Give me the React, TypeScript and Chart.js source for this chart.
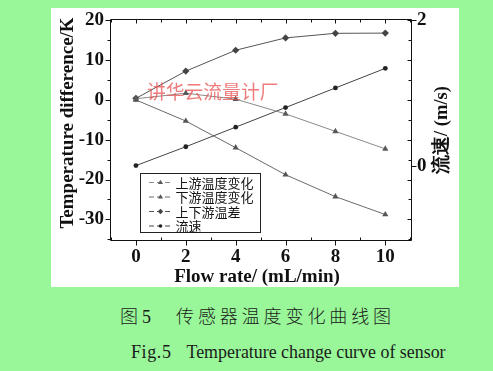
import React, { useEffect, useRef } from "react";
import { Chart, registerables } from "chart.js";

Chart.register(...registerables);

const flowRate = [0, 2, 4, 6, 8, 10];
const upstream = [0.3, 1.7, 0.2, -3.5, -7.9, -12.3];
const downstream = [0, -5.3, -12, -18.8, -24.3, -28.8];
const tempDiff = [0.4, 7.25, 12.5, 15.6, 16.75, 16.8];
const velocity = [0, 0.26, 0.53, 0.8, 1.07, 1.34];

const seriesNames = ["上游温度变化", "下游温度变化", "上下游温差", "流速"];
const xTicks = [0, 2, 4, 6, 8, 10];
const yTicks = [-30, -20, -10, 0, 10, 20];
const y2Ticks = [0, 2];

const xTitle = "Flow rate/ (mL/min)";
const yTitle = "Temperature difference/K";
const y2Title = "流速/ (m/s)";
const watermark = "讲华云流量计厂";

const SERIF = '"Liberation Serif", serif';
const CJK = '"Noto Sans CJK SC", sans-serif';

function drawMarker(ctx: CanvasRenderingContext2D, style: string, x: number, y: number, r: number, color: string) {
  ctx.save();
  ctx.fillStyle = color;
  ctx.beginPath();
  if (style === "triangle") {
    ctx.moveTo(x, y - r);
    ctx.lineTo(x + r * 0.95, y + r * 0.6);
    ctx.lineTo(x - r * 0.95, y + r * 0.6);
    ctx.closePath();
  } else if (style === "rectRot") {
    ctx.moveTo(x, y - r);
    ctx.lineTo(x + r, y);
    ctx.lineTo(x, y + r);
    ctx.lineTo(x - r, y);
    ctx.closePath();
  } else {
    ctx.arc(x, y, r, 0, Math.PI * 2);
  }
  ctx.fill();
  ctx.restore();
}

const decorPlugin = {
  id: "decor",
  afterDatasetsDraw(chart: any) {
    const ctx: CanvasRenderingContext2D = chart.ctx;
    ctx.save();
    ctx.font = `18.8px ${CJK}`;
    ctx.fillStyle = "rgba(232, 80, 80, 0.75)";
    ctx.textBaseline = "middle";
    ctx.textAlign = "left";
    ctx.fillText(watermark, 96, 84);
    ctx.restore();
  },
  afterDraw(chart: any) {
    const ctx: CanvasRenderingContext2D = chart.ctx;
    const ca = chart.chartArea;
    const xs = chart.scales.x;
    const ys = chart.scales.y;
    const y2 = chart.scales.y2;
    const L = Math.round(ca.left) + 0.5;
    const R = Math.round(ca.right) + 0.5;
    const T = Math.round(ca.top) + 0.5;
    const B = Math.round(ca.bottom) + 0.5;
    ctx.save();
    ctx.strokeStyle = "#111";
    ctx.lineWidth = 1;
    ctx.beginPath();
    ctx.rect(L, T, R - L, B - T);
    for (let v = -35; v <= 20; v += 5) {
      const py = Math.round(ys.getPixelForValue(v)) + 0.5;
      const major = v % 10 === 0;
      ctx.moveTo(L, py);
      ctx.lineTo(L - (major ? 5 : 3), py);
      ctx.moveTo(R, py);
      ctx.lineTo(R - (major ? 4 : 3), py);
    }
    for (const v of y2Ticks) {
      const py = Math.round(y2.getPixelForValue(v)) + 0.5;
      ctx.moveTo(R, py);
      ctx.lineTo(R + 5, py);
    }
    for (let v = -1; v <= 11; v += 1) {
      const px = Math.round(xs.getPixelForValue(v)) + 0.5;
      const major = v % 2 === 0;
      if (major) {
        ctx.moveTo(px, B);
        ctx.lineTo(px, B + 5);
      } else {
        ctx.moveTo(px, B);
        ctx.lineTo(px, B - 3);
      }
      ctx.moveTo(px, T);
      ctx.lineTo(px, T + (major ? 4 : 3));
    }
    ctx.stroke();

    ctx.fillStyle = "#111";
    ctx.textAlign = "center";
    ctx.textBaseline = "middle";
    ctx.font = `bold 19px ${SERIF}`;
    ctx.fillText(xTitle, 206, 269);
    ctx.save();
    ctx.translate(17, 115);
    ctx.rotate(-Math.PI / 2);
    ctx.fillText(yTitle, 0, 0);
    ctx.restore();
    ctx.save();
    ctx.translate(391, 122);
    ctx.rotate(-Math.PI / 2);
    ctx.font = `bold 18.5px ${SERIF}`;
    ctx.fillText(y2Title, 0, 0);
    ctx.restore();

    const bx = 89.5, by = 165.5, bw = 120, bh = 59;
    ctx.fillStyle = "#fff";
    ctx.fillRect(bx, by, bw, bh);
    ctx.strokeStyle = "#222";
    ctx.strokeRect(bx, by, bw, bh);
    const rows = [174.5, 189, 203.5, 218];
    chart.data.datasets.forEach((ds: any, i: number) => {
      const ry = rows[i];
      ctx.save();
      ctx.strokeStyle = ds.borderColor;
      ctx.setLineDash([5, 3]);
      ctx.beginPath();
      ctx.moveTo(98, ry);
      ctx.lineTo(121, ry);
      ctx.stroke();
      ctx.restore();
      drawMarker(ctx, ds.pointStyle, 109.5, ry, ds.pointRadius * 0.75, ds.pointBackgroundColor);
      ctx.fillStyle = "#151515";
      ctx.textAlign = "left";
      ctx.textBaseline = "middle";
      ctx.font = `13px ${CJK}`;
      ctx.fillText(ds.label, 124.5, ry + 0.5);
    });
    ctx.restore();
  },
};

function pts(ys: number[]) {
  return flowRate.map((x, i) => ({ x, y: ys[i] }));
}

export default function App() {
  const ref = useRef<HTMLCanvasElement>(null);
  useEffect(() => {
    if (!ref.current) return;
    const tickFont = { family: SERIF, size: 19, weight: "bold" as const };
    const chart = new Chart(ref.current, {
      type: "scatter",
      data: {
        datasets: [
          {
            label: seriesNames[0],
            data: pts(upstream),
            yAxisID: "y",
            showLine: true,
            borderColor: "#8a8a8a",
            borderWidth: 1,
            pointStyle: "triangle",
            pointRadius: 3.6,
            pointBackgroundColor: "#5a5a5a",
            pointBorderWidth: 0,
          },
          {
            label: seriesNames[1],
            data: pts(downstream),
            yAxisID: "y",
            showLine: true,
            borderColor: "#6a6a6a",
            borderWidth: 1,
            pointStyle: "triangle",
            pointRadius: 3.6,
            pointBackgroundColor: "#555",
            pointBorderWidth: 0,
          },
          {
            label: seriesNames[2],
            data: pts(tempDiff),
            yAxisID: "y",
            showLine: true,
            borderColor: "#555",
            borderWidth: 1,
            pointStyle: "rectRot",
            pointRadius: 3.6,
            pointBackgroundColor: "#444",
            pointBorderWidth: 0,
          },
          {
            label: seriesNames[3],
            data: pts(velocity),
            yAxisID: "y2",
            showLine: true,
            borderColor: "#444",
            borderWidth: 1,
            pointStyle: "circle",
            pointRadius: 2.4,
            pointBackgroundColor: "#222",
            pointBorderWidth: 0,
          },
        ] as any,
      },
      options: {
        responsive: false,
        animation: false,
        layout: { padding: { top: 11, left: 0, right: 0, bottom: 0 } },
        plugins: { legend: { display: false }, tooltip: { enabled: false } },
        scales: {
          x: {
            type: "linear",
            min: -1.04,
            max: 11.03,
            grid: { display: false, drawTicks: false },
            border: { display: false },
            ticks: { font: tickFont, color: "#111", padding: 6, callback: (v: any) => String(v) },
            afterBuildTicks: (s: any) => {
              s.ticks = xTicks.map((value) => ({ value }));
            },
            afterFit: (s: any) => {
              s.height = 47;
              s.paddingLeft = 0;
              s.paddingRight = 0;
            },
          },
          y: {
            type: "linear",
            position: "left",
            min: -35.2,
            max: 20.35,
            grid: { display: false, drawTicks: false },
            border: { display: false },
            ticks: { font: tickFont, color: "#111", padding: 6, callback: (v: any) => String(v) },
            afterBuildTicks: (s: any) => {
              s.ticks = yTicks.map((value) => ({ value }));
            },
            afterFit: (s: any) => {
              s.width = 59;
              s.paddingTop = 0;
              s.paddingBottom = 0;
            },
          },
          y2: {
            type: "linear",
            position: "right",
            min: -1.025,
            max: 2.02,
            grid: { display: false, drawTicks: false },
            border: { display: false },
            ticks: { font: tickFont, color: "#111", padding: 6, callback: (v: any) => String(v) },
            afterBuildTicks: (s: any) => {
              s.ticks = y2Ticks.map((value) => ({ value }));
            },
            afterFit: (s: any) => {
              s.width = 48;
              s.paddingTop = 0;
              s.paddingBottom = 0;
            },
          },
        },
      } as any,
      plugins: [decorPlugin],
    });
    return () => chart.destroy();
  }, []);

  return (
    <div
      style={{
        position: "absolute",
        left: 0,
        top: 0,
        width: 493,
        height: 371,
        background: "#99f799",
        overflow: "hidden",
      }}
    >
      <div style={{ position: "absolute", left: 51, top: 8, width: 408, height: 279, background: "#fff" }}>
        <canvas ref={ref} width={408} height={279} style={{ display: "block", width: 408, height: 279 }} />
      </div>
      <div
        style={{
          position: "absolute",
          left: 120,
          top: 304,
          fontFamily: CJK,
          fontWeight: 300,
          fontSize: 18,
          lineHeight: "22px",
          color: "#1a1a1a",
          whiteSpace: "nowrap",
        }}
      >
        图<span style={{ fontFamily: SERIF, marginLeft: 4 }}>5</span>
      </div>
      <div
        style={{
          position: "absolute",
          left: 176,
          top: 304,
          fontFamily: CJK,
          fontWeight: 300,
          fontSize: 18,
          letterSpacing: 3.9,
          lineHeight: "22px",
          color: "#1a1a1a",
          whiteSpace: "nowrap",
        }}
      >
        传感器温度变化曲线图
      </div>
      <div
        style={{
          position: "absolute",
          left: 131,
          top: 341,
          fontFamily: SERIF,
          fontSize: 18,
          lineHeight: "22px",
          color: "#1a1a1a",
          whiteSpace: "nowrap",
          letterSpacing: 0.6,
        }}
      >
        Fig.5
      </div>
      <div
        style={{
          position: "absolute",
          left: 186.5,
          top: 341,
          fontFamily: SERIF,
          fontSize: 17.9,
          lineHeight: "22px",
          color: "#1a1a1a",
          whiteSpace: "nowrap",
        }}
      >
        Temperature change curve of sensor
      </div>
    </div>
  );
}
